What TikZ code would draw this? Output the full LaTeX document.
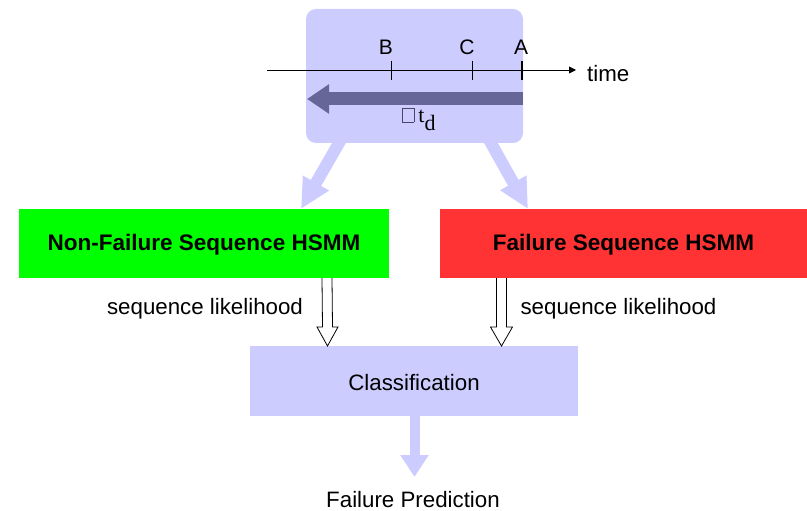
\documentclass[tikz,border=0pt]{standalone}
\usepackage{fontspec}
\setmainfont{Liberation Sans}
\newfontfamily\serifface{Liberation Serif}
\usetikzlibrary{arrows.meta,calc}
\definecolor{lavender}{HTML}{CCCCFF}
\definecolor{slate}{HTML}{666699}
\definecolor{okgreen}{HTML}{00FF00}
\definecolor{failred}{HTML}{FF3333}
\tikzset{
  lbl/.style={inner sep=0pt, font=\fontsize{22.3}{26}\selectfont},
  ticklbl/.style={inner sep=0pt, font=\fontsize{21}{24}\selectfont},
  model/.style={inner sep=0pt, minimum height=69pt, text height=14pt, text depth=0pt, font=\fontsize{22.5}{26}\bfseries\selectfont},
  fatarrow/.style={draw=lavender, line width=12pt, -{Triangle[width=28pt,length=30pt]}},
  outarrow/.style={draw=lavender, line width=10pt, -{Triangle[width=27pt,length=22pt]}},
  backarrow/.style={draw=slate, line width=13pt, -{Triangle[width=28pt,length=22pt]}},
  hollowarrow/.style={draw=black, fill=white, line width=0.8pt, line join=miter},
  tickmark/.style={draw=black, line width=0.9pt}
}
\begin{document}
\begin{tikzpicture}[x=1pt,y=-1pt]
\useasboundingbox (0,0) rectangle (807,511);

% arrows from the time window to both models (drawn under the window)
\coordinate (wl) at (343,136);
\coordinate (wr) at (487,136);
\coordinate (nfl) at (301,209);
\coordinate (fl) at (528,209);
\draw[fatarrow] (wl) -- (nfl);
\draw[fatarrow] (wr) -- (fl);

% time window
\node[fill=lavender, rounded corners=10pt, minimum width=217pt, minimum height=134pt, inner sep=0pt] (win) at (414.5,76) {};

% time axis
\coordinate (t0) at (267,70);
\coordinate (t1) at (576,70);
\draw[line width=0.9pt, -{Triangle[length=7pt,width=7pt]}] (t0) -- (t1);
\node[lbl, anchor=west] (timelbl) at (587,74) {time};

\coordinate (tb) at (391,70);
\coordinate (tc) at (472,70);
\coordinate (ta) at (522,70);
\draw[tickmark] ($(tb)+(0,-9)$) -- ($(tb)+(0,10)$);
\draw[tickmark] ($(tc)+(0,-9)$) -- ($(tc)+(0,10)$);
\draw[tickmark, line width=1.2pt] ($(ta)+(0,-9)$) -- ($(ta)+(0,10)$);
\node[ticklbl] (lb) at (386,47) {B};
\node[ticklbl] (lc) at (467,47) {C};
\node[ticklbl] (la) at (521,47) {A};

% look-back interval
\coordinate (ds) at (523,99);
\coordinate (de) at (307,99);
\draw[backarrow] (ds) -- (de);
\node[inner sep=0pt, anchor=west, font=\fontsize{22}{26}\serifface\selectfont] (dt) at (402,119)
  {{\setlength\fboxsep{0pt}\setlength\fboxrule{0.6pt}\color{slate!70!black}\fbox{\rule{0pt}{14pt}\hspace{11pt}}}\kern4pt\color{black}t$_{\textrm{\serifface d}}$};

% the two models
\node[model, fill=okgreen, minimum width=370pt] (nf) at (204,243.5) {Non-Failure Sequence HSMM};
\node[model, fill=failred, minimum width=367pt] (fm) at (623.5,243.5) {Failure Sequence HSMM};

% classification
\node[fill=lavender, minimum width=328pt, minimum height=70pt, inner sep=0pt, lbl, text height=18pt, text depth=0pt] (cls) at (414,381) {Classification};

% likelihood arrows
\coordinate (h1s) at (327,278);
\coordinate (h1e) at (327.5,346);
\draw[hollowarrow] ($(h1s)+(-5,0)$) -- ($(h1e)+(-5,-19)$) -- ($(h1e)+(-10.5,-19)$) -- (h1e)
  -- ($(h1e)+(10.5,-19)$) -- ($(h1e)+(5,-19)$) -- ($(h1s)+(5,0)$);
\coordinate (h2s) at (501.5,278);
\coordinate (h2e) at (501.5,346);
\draw[hollowarrow] ($(h2s)+(-5,0)$) -- ($(h2e)+(-5,-19)$) -- ($(h2e)+(-11,-19)$) -- (h2e)
  -- ($(h2e)+(11,-19)$) -- ($(h2e)+(5,-19)$) -- ($(h2s)+(5,0)$);
\node[lbl] (sl1) at (205,309) {sequence likelihood};
\node[lbl] (sl2) at (618.5,309) {sequence likelihood};

% output
\coordinate (pe) at (414.5,477);
\draw[outarrow] (cls.south -| pe) -- (pe);
\node[lbl, text height=16pt, text depth=0pt] (pred) at (413,499.5) {Failure Prediction};
\end{tikzpicture}
\end{document}
